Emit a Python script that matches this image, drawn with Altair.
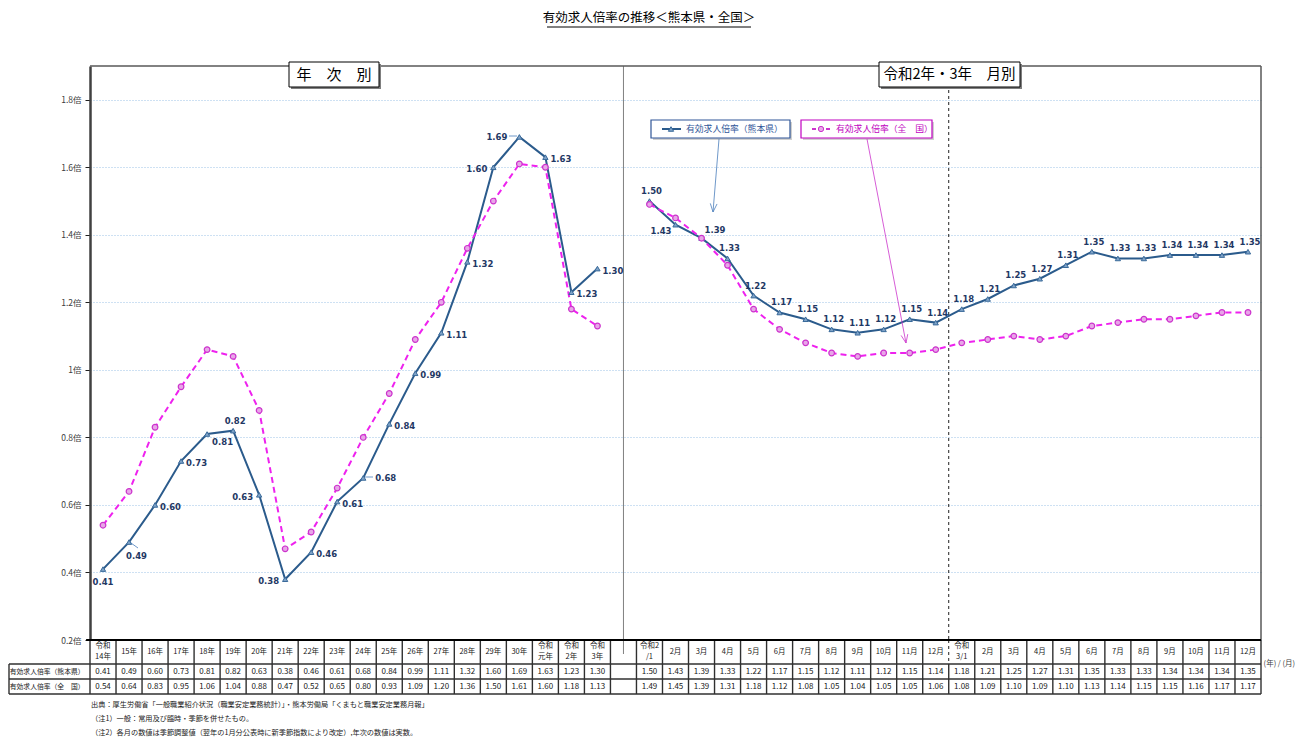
import math
import altair as alt
import pandas as pd

# ---------------- data ----------------
annual_labels = ["令和\n14年", "15年", "16年", "17年", "18年", "19年", "20年", "21年", "22年",
                 "23年", "24年", "25年", "26年", "27年", "28年", "29年", "30年",
                 "令和\n元年", "令和\n2年", "令和\n3年"]
annual_kumamoto = [0.41, 0.49, 0.60, 0.73, 0.81, 0.82, 0.63, 0.38, 0.46, 0.61,
                   0.68, 0.84, 0.99, 1.11, 1.32, 1.60, 1.69, 1.63, 1.23, 1.30]
annual_national = [0.54, 0.64, 0.83, 0.95, 1.06, 1.04, 0.88, 0.47, 0.52, 0.65,
                   0.80, 0.93, 1.09, 1.20, 1.36, 1.50, 1.61, 1.60, 1.18, 1.13]
annual_label_pos = ["b", "br", "r", "r", "rb", "a", "l", "l", "r", "r",
                    "rr", "r", "r", "r", "r", "l", "ll", "r", "r", "r"]

monthly_labels = ["令和2\n/1", "2月", "3月", "4月", "5月", "6月", "7月", "8月", "9月", "10月", "11月", "12月",
                  "令和\n3/1", "2月", "3月", "4月", "5月", "6月", "7月", "8月", "9月", "10月", "11月", "12月"]
monthly_kumamoto = [1.50, 1.43, 1.39, 1.33, 1.22, 1.17, 1.15, 1.12, 1.11, 1.12, 1.15, 1.14,
                    1.18, 1.21, 1.25, 1.27, 1.31, 1.35, 1.33, 1.33, 1.34, 1.34, 1.34, 1.35]
monthly_national = [1.49, 1.45, 1.39, 1.31, 1.18, 1.12, 1.08, 1.05, 1.04, 1.05, 1.05, 1.06,
                    1.08, 1.09, 1.10, 1.09, 1.10, 1.13, 1.14, 1.15, 1.15, 1.16, 1.17, 1.17]
monthly_label_pos = ["a", "lb", "ar"] + ["a"] * 21

y_ticks = [0.2, 0.4, 0.6, 0.8, 1.0, 1.2, 1.4, 1.6, 1.8]
row_labels = ["有効求人倍率（熊本県）", "有効求人倍率（全　国）"]
legend_labels = ["有効求人倍率（熊本県）", "有効求人倍率（全　国）"]
section_titles = ["年　次　別", "令和2年・3年　月別"]
title_text = "有効求人倍率の推移＜熊本県・全国＞"
unit_label = "(年) / (月)"
footnotes = ["出典：厚生労働省「一般職業紹介状況（職業安定業務統計）」・熊本労働局「くまもと職業安定業務月報」",
             "（注1）一般：常用及び臨時・季節を併せたもの。",
             "（注2）各月の数値は季節調整値（翌年の1月分公表時に新季節指数により改定）,年次の数値は実数。"]

# ---------------- layout constants ----------------
W, H = 1171, 574
N_COLS = 45
SEP = 20
COL_W = W / N_COLS
LBL_W = 81 / COL_W
TH = 96                 # table block height
HDR_B, R1_B, R2_B = 24, 39, 54

FONT = "Noto Sans CJK JP"
KUM_LINE = "#2B5B8C"
KUM_TEXT = "#1F3864"
NAT_LINE = "#EE22EE"

rows = []
for i, (lab, k, n, p) in enumerate(zip(annual_labels, annual_kumamoto, annual_national, annual_label_pos)):
    rows.append(dict(x=i + 0.5, label=lab, kum=k, nat=n, pos=p, seg="annual"))
for j, (lab, k, n, p) in enumerate(zip(monthly_labels, monthly_kumamoto, monthly_national, monthly_label_pos)):
    rows.append(dict(x=SEP + 1 + j + 0.5, label=lab, kum=k, nat=n, pos=p, seg="monthly"))
df = pd.DataFrame(rows)
df["kum_s"] = df["kum"].map(lambda v: f"{v:.2f}")
df["nat_s"] = df["nat"].map(lambda v: f"{v:.2f}")
df["multi"] = df["label"].map(lambda s: "y" if "\n" in s else "n")

xs = alt.Scale(domain=[0, N_COLS], nice=False, zero=False)
ys = alt.Scale(domain=[0.2, 1.9], nice=False, zero=False)
X = alt.X("x:Q", scale=xs, axis=None)

one = pd.DataFrame({"k": [0]})

yaxis = alt.Axis(values=y_ticks, title=None,
                 labelExpr="format(datum.value, '~g') + '倍'",
                 labelFontSize=8.5, labelColor="#404040", labelPadding=4, labelFont=FONT,
                 grid=True, gridColor="#9DC3E6", gridDash=[1, 2], gridWidth=1,
                 domainColor="#404040", domainWidth=2.5,
                 tickColor="#202020", tickSize=5, tickWidth=1)

# ---------------- main plot layers ----------------
sep_rule = alt.Chart(pd.DataFrame({"x": [SEP + 0.5]})).mark_rule(color="#808080", strokeWidth=1).encode(x=alt.X("x:Q", scale=xs, axis=None))
dash_rule = alt.Chart(pd.DataFrame({"x": [SEP + 13]})).mark_rule(color="#202020", strokeWidth=1, strokeDash=[3, 3]).encode(x=alt.X("x:Q", scale=xs, axis=None))
frame_top = alt.Chart(one).mark_rule(color="#595959", strokeWidth=1.5).encode(x=alt.value(0), x2=alt.value(W), y=alt.value(0))
frame_right = alt.Chart(one).mark_rule(color="#595959", strokeWidth=1.5).encode(x=alt.value(W), y=alt.value(0), y2=alt.value(H))

kum_line = alt.Chart(df).mark_line(color=KUM_LINE, strokeWidth=2).encode(
    x=X, y=alt.Y("kum:Q", scale=ys, axis=yaxis), detail="seg:N")
nat_line = alt.Chart(df).mark_line(color=NAT_LINE, strokeWidth=2, strokeDash=[6, 4]).encode(
    x=X, y=alt.Y("nat:Q", scale=ys), detail="seg:N")
kum_pts = alt.Chart(df).mark_point(shape="triangle-up", size=28, filled=True, fill="#7FA3C8",
                                   stroke="#3A6A9A", strokeWidth=1, opacity=1).encode(
    x=X, y=alt.Y("kum:Q", scale=ys))
nat_pts = alt.Chart(df).mark_point(shape="circle", size=32, filled=True, fill="#E8A6E8",
                                   stroke="#CC33CC", strokeWidth=1.2, opacity=1).encode(
    x=X, y=alt.Y("nat:Q", scale=ys))

PLACE = {
    "r": ("left", 5, 2), "rr": ("left", 12, 0), "l": ("right", -6, 2), "ll": ("right", -12, 0),
    "b": ("center", 0, 13), "br": ("left", -3, 14), "rb": ("left", 5, 8),
    "a": ("center", 2, -10), "ar": ("left", 3, -8), "lb": ("right", -4, 6),
}
label_layers = []
for code, (align, dx, dy) in PLACE.items():
    label_layers.append(
        alt.Chart(df).transform_filter(alt.datum.pos == code).mark_text(
            align=align, dx=dx, dy=dy, baseline="middle", font="DejaVu Sans",
            fontWeight="bold", fontSize=8.5, color=KUM_TEXT).encode(
            x=X, y=alt.Y("kum:Q", scale=ys), text="kum_s:N"))

# leader lines for a few labels
leaders = alt.Chart(one).mark_rule(color="#4A7EBB", strokeWidth=0.8)
lead1 = leaders.encode(x=alt.value(128 - 89 + 2), y=alt.value(541 - 66 + 2), x2=alt.value(128 - 89 + 9), y2=alt.value(541 - 66 + 7))
lead2 = leaders.encode(x=alt.value(362 - 89 + 2), y=alt.value(477 - 66), x2=alt.value(362 - 89 + 10), y2=alt.value(477 - 66))
lead3 = leaders.encode(x=alt.value(518 - 89 - 2), y=alt.value(136 - 66), x2=alt.value(518 - 89 - 10), y2=alt.value(136 - 66))

# section header boxes
def header_box(x0, x1, text, fs):
    sh = alt.Chart(one).mark_rect(fill="#7F7F7F").encode(
        x=alt.value(x0 + 2), x2=alt.value(x1 + 2), y=alt.value(-2), y2=alt.value(23))
    bx = alt.Chart(one).mark_rect(fill="white", stroke="#000000", strokeWidth=1).encode(
        x=alt.value(x0), x2=alt.value(x1), y=alt.value(-4), y2=alt.value(21))
    tx = alt.Chart(one).mark_text(text=text, fontSize=fs, font=FONT, color="#000000",
                                  align="center", baseline="middle").encode(
        x=alt.value((x0 + x1) / 2), y=alt.value(8.5))
    return [sh, bx, tx]

boxes = header_box(199, 289, section_titles[0], 15) + header_box(789, 930, section_titles[1], 14.5)

# legend boxes
def legend_box(x0, x1, color, text, line_dash, shape, fill, stroke):
    sh = alt.Chart(one).mark_rect(fill="#D0D0D0").encode(
        x=alt.value(x0 + 2), x2=alt.value(x1 + 2), y=alt.value(56), y2=alt.value(74))
    bx = alt.Chart(one).mark_rect(fill="white", stroke=color, strokeWidth=1.2).encode(
        x=alt.value(x0), x2=alt.value(x1), y=alt.value(54), y2=alt.value(72))
    ln_kw = dict(color=stroke if shape == "circle" else KUM_LINE, strokeWidth=2)
    if line_dash:
        ln_kw["strokeDash"] = line_dash
    ln = alt.Chart(one).mark_rule(**ln_kw).encode(
        x=alt.value(x0 + 11), x2=alt.value(x0 + 30), y=alt.value(63))
    pt = alt.Chart(one).mark_point(shape=shape, size=28, filled=True, fill=fill, stroke=stroke,
                                   strokeWidth=1, opacity=1).encode(
        x=alt.value(x0 + 20), y=alt.value(63))
    tx = alt.Chart(one).mark_text(text=text, fontSize=8.8, font=FONT, color=color,
                                  align="left", baseline="middle").encode(
        x=alt.value(x0 + 35), y=alt.value(63))
    return [sh, bx, ln, pt, tx]

legends = (legend_box(561, 700, "#2F5597", legend_labels[0], None, "triangle-up", "#7FA3C8", "#3A6A9A")
           + legend_box(711, 842, "#C000C0", legend_labels[1], [4, 3], "circle", "#E8A6E8", "#CC33CC"))

# arrows from legends
def arrow(xa, ya, xb, yb, color):
    ang = math.atan2(yb - ya, xb - xa)
    L, spread = 9, math.radians(22)
    parts = [alt.Chart(one).mark_rule(color=color, strokeWidth=0.8).encode(
        x=alt.value(xa), y=alt.value(ya), x2=alt.value(xb), y2=alt.value(yb))]
    for s in (spread, -spread):
        ex = xb - L * math.cos(ang + s)
        ey = yb - L * math.sin(ang + s)
        parts.append(alt.Chart(one).mark_rule(color=color, strokeWidth=0.8).encode(
            x=alt.value(xb), y=alt.value(yb), x2=alt.value(ex), y2=alt.value(ey)))
    return parts

arrows = arrow(629, 73, 623, 146, "#4A7EBB") + arrow(777, 73, 816, 277, "#CC33CC")

# chart title (underlined)
title_mark = alt.Chart(one).mark_text(text=title_text, fontSize=12.5, font=FONT, color="#000000",
                                      align="center", baseline="middle").encode(
    x=alt.value(559), y=alt.value(-48))
title_line = alt.Chart(one).mark_rule(color="#000000", strokeWidth=1).encode(
    x=alt.value(457), x2=alt.value(661), y=alt.value(-39))

main = alt.layer(
    sep_rule, dash_rule, kum_line, nat_line, kum_pts, nat_pts, *label_layers,
    lead1, lead2, lead3, frame_top, frame_right, *boxes, *legends, *arrows, title_mark, title_line
).properties(width=W, height=H)

# ---------------- table ----------------
tys = alt.Scale(domain=[0, TH], reverse=True, nice=False, zero=False)

hl = pd.DataFrame({"y": [0, HDR_B, R1_B, R2_B],
                   "x0": [-0.15, -LBL_W, -LBL_W, -LBL_W],
                   "x1": [N_COLS, N_COLS, N_COLS, N_COLS],
                   "w": ["t", "n", "n", "n"]})
vl_rows = []
for i in range(N_COLS + 1):
    if i != SEP + 13:
        vl_rows.append(dict(x=i, y0=0, y1=R2_B))
    else:
        vl_rows.append(dict(x=i, y0=HDR_B, y1=R2_B))
vl_rows.append(dict(x=-LBL_W, y0=HDR_B, y1=R2_B))
vl = pd.DataFrame(vl_rows)

TX = alt.X("x:Q", scale=xs, axis=None)
t_top = alt.Chart(hl).transform_filter(alt.datum.w == "t").mark_rule(color="#000000", strokeWidth=2).encode(
    x=alt.X("x0:Q", scale=xs, axis=None), x2="x1:Q", y=alt.Y("y:Q", scale=tys, axis=None))
t_h = alt.Chart(hl).transform_filter(alt.datum.w == "n").mark_rule(color="#303030", strokeWidth=1.4).encode(
    x=alt.X("x0:Q", scale=xs, axis=None), x2="x1:Q", y=alt.Y("y:Q", scale=tys, axis=None))
t_v = alt.Chart(vl).mark_rule(color="#303030", strokeWidth=1.4).encode(
    x=TX, y=alt.Y("y0:Q", scale=tys, axis=None), y2="y1:Q")
t_dash = alt.Chart(pd.DataFrame({"x": [SEP + 13], "y0": [0], "y1": [HDR_B]})).mark_rule(
    color="#202020", strokeWidth=1, strokeDash=[3, 3]).encode(
    x=TX, y=alt.Y("y0:Q", scale=tys, axis=None), y2="y1:Q")
t_sep = alt.Chart(pd.DataFrame({"x": [SEP + 0.5], "y0": [0], "y1": [14]})).mark_rule(
    color="#808080", strokeWidth=1).encode(
    x=TX, y=alt.Y("y0:Q", scale=tys, axis=None), y2="y1:Q")

hdr_y = HDR_B / 2
r1_y = (HDR_B + R1_B) / 2
r2_y = (R1_B + R2_B) / 2
t_hdr1 = alt.Chart(df).transform_filter(alt.datum.multi == "n").mark_text(
    fontSize=7.5, font=FONT, color="#202020", align="center", baseline="middle").encode(
    x=TX, y=alt.Y("yy:Q", scale=tys, axis=None), text="label:N").transform_calculate(yy=str(hdr_y))
t_hdr2 = alt.Chart(df).transform_filter(alt.datum.multi == "y").mark_text(
    fontSize=7.5, font=FONT, color="#202020", lineBreak="\n", lineHeight=11,
    align="center", baseline="middle", dy=-6).encode(
    x=TX, y=alt.Y("yy:Q", scale=tys, axis=None), text="label:N").transform_calculate(yy=str(hdr_y))
t_r1 = alt.Chart(df).mark_text(fontSize=8, font=FONT, color="#202020", align="center", baseline="middle").encode(
    x=TX, y=alt.Y("yy:Q", scale=tys, axis=None), text="kum_s:N").transform_calculate(yy=str(r1_y))
t_r2 = alt.Chart(df).mark_text(fontSize=8, font=FONT, color="#202020", align="center", baseline="middle").encode(
    x=TX, y=alt.Y("yy:Q", scale=tys, axis=None), text="nat_s:N").transform_calculate(yy=str(r2_y))

rl = pd.DataFrame({"x": [-LBL_W + 0.03] * 2, "y": [r1_y, r2_y], "t": row_labels})
t_rl = alt.Chart(rl).mark_text(fontSize=6.8, font=FONT, color="#202020", align="left", baseline="middle").encode(
    x=TX, y=alt.Y("y:Q", scale=tys, axis=None), text="t:N")

t_unit = alt.Chart(pd.DataFrame({"x": [N_COLS + 0.1], "y": [HDR_B], "t": [unit_label]})).mark_text(
    fontSize=7.5, font=FONT, color="#404040", align="left", baseline="middle").encode(
    x=TX, y=alt.Y("y:Q", scale=tys, axis=None), text="t:N")

fn = pd.DataFrame({"x": [0.04, 0.04, 0.04], "y": [65, 79, 93], "t": footnotes})
t_fn = alt.Chart(fn).mark_text(fontSize=7.2, font=FONT, color="#202020", align="left", baseline="middle").encode(
    x=TX, y=alt.Y("y:Q", scale=tys, axis=None), text="t:N")

table = alt.layer(t_h, t_v, t_dash, t_sep, t_top, t_hdr1, t_hdr2, t_r1, t_r2, t_rl, t_unit, t_fn).properties(
    width=W, height=TH)

chart = alt.vconcat(main, table, spacing=0, bounds="flush").properties(
    padding={"left": 0, "top": 4, "right": 0, "bottom": 0}
).configure(font=FONT).configure_view(strokeWidth=0)

chart.save("out.html", embed_options={"renderer": "svg", "actions": False})
